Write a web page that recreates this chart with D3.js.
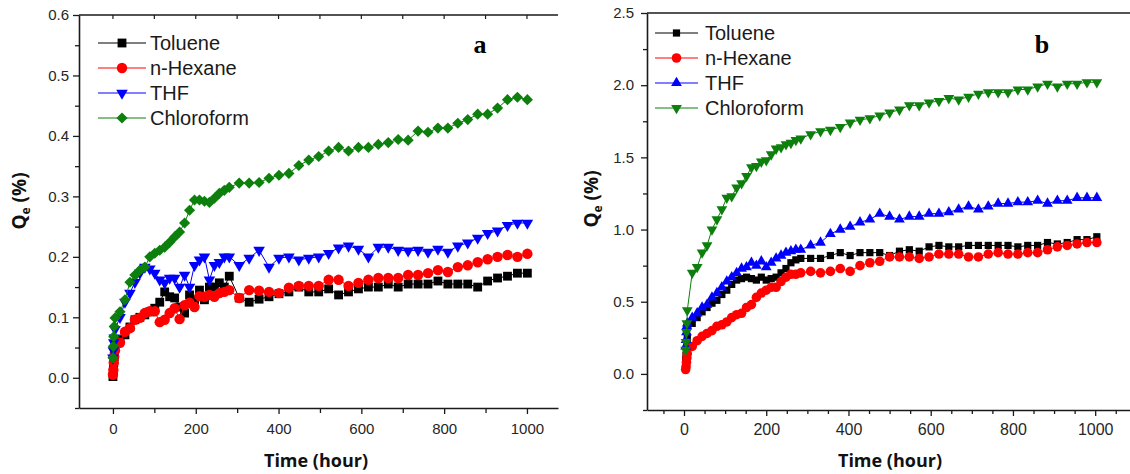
<!DOCTYPE html>
<html><head><meta charset="utf-8">
<script src="https://cdn.jsdelivr.net/npm/d3@7"></script>
<style>body{margin:0;background:#fff}svg{display:block}</style>
</head><body>
<svg id="c" width="1130" height="474"></svg>
<script>
// ---------- data ----------
const seriesNames = ["Toluene", "n-Hexane", "THF", "Chloroform"];
const seriesColors = ["#000000", "#ff0000", "#0000ff", "#0c7f0c"];

// Panel a (hours)
const aTimes = [0,1,2,3,5,17,29,41,53,65,77,89,101,113,125,137,149,161,173,185,197,209,221,233,245,257,269,281,
  305,329,353,377,401,425,449,473,497,521,545,569,593,617,641,665,689,713,737,761,785,809,833,857,881,905,929,953,977,1001];
const aToluene = [.002,.013,.025,.035,.05,.063,.071,.084,.096,.1,.104,.109,.115,.125,.142,.134,.132,.117,.107,.137,.129,.145,.129,.15,.15,.157,.15,.168,
  .132,.125,.13,.134,.139,.142,.15,.142,.142,.147,.137,.142,.147,.15,.15,.155,.15,.155,.155,.155,.16,.155,.155,.155,.15,.16,.165,.168,.173,.173];
const aHexane = [.005,.013,.025,.035,.045,.058,.076,.082,.096,.099,.107,.11,.11,.092,.096,.107,.115,.097,.12,.124,.117,.135,.134,.137,.134,.14,.142,.145,
  .132,.145,.144,.142,.14,.149,.152,.152,.152,.162,.162,.152,.157,.162,.165,.165,.165,.17,.17,.173,.178,.175,.183,.186,.191,.196,.2,.203,.2,.205];
const aTHF = [.033,.045,.058,.066,.08,.1,.125,.14,.158,.173,.183,.18,.173,.162,.157,.165,.165,.15,.17,.15,.186,.195,.2,.162,.186,.191,.2,.2,
  .186,.198,.211,.183,.198,.2,.195,.198,.2,.206,.215,.218,.213,.2,.216,.216,.211,.21,.211,.208,.213,.208,.218,.223,.231,.239,.243,.252,.256,.256];
const aChloroform = [.033,.052,.068,.085,.099,.109,.129,.158,.17,.178,.183,.2,.206,.211,.216,.224,.233,.241,.256,.277,.294,.294,.292,.29,.297,.305,.31,.315,
  .322,.322,.323,.33,.335,.338,.351,.36,.366,.375,.381,.375,.381,.381,.386,.389,.394,.393,.408,.406,.413,.413,.421,.427,.436,.436,.446,.46,.464,.46];

// Panel b (hours)
const bTimes = [4,5,6,7,8,20,32,44,56,68,80,92,104,116,128,140,152,164,176,188,200,212,224,236,248,260,272,284,
  308,332,356,380,404,428,452,476,500,524,548,572,596,620,644,668,692,716,740,764,788,812,836,860,884,908,932,956,980,1004];
const bToluene = [.1,.13,.17,.2,.25,.35,.39,.43,.46,.49,.51,.55,.58,.62,.65,.66,.67,.66,.65,.67,.65,.66,.67,.7,.73,.77,.79,.8,
  .8,.8,.82,.84,.82,.84,.84,.84,.82,.85,.86,.85,.88,.89,.88,.88,.89,.89,.89,.89,.89,.88,.89,.89,.91,.9,.91,.93,.93,.95];
const bHexane = [.03,.05,.08,.11,.14,.19,.23,.26,.28,.3,.33,.34,.36,.39,.41,.42,.46,.48,.53,.56,.58,.6,.6,.64,.67,.69,.69,.7,
  .71,.7,.71,.73,.71,.75,.77,.78,.81,.81,.81,.8,.81,.83,.83,.83,.81,.81,.83,.84,.83,.83,.84,.84,.86,.88,.89,.9,.91,.91];
const bTHF = [.19,.235,.29,.33,.35,.39,.42,.46,.48,.53,.56,.6,.64,.67,.7,.73,.74,.77,.75,.78,.74,.77,.8,.82,.84,.85,.86,.86,
  .89,.91,.97,1.0,1.02,1.05,1.07,1.11,1.09,1.07,1.09,1.09,1.11,1.11,1.12,1.14,1.16,1.14,1.16,1.18,1.18,1.19,1.19,1.2,1.18,1.2,1.2,1.22,1.22,1.22];
const bChloroform = [.166,.22,.29,.35,.44,.7,.74,.84,.89,1.0,1.07,1.14,1.22,1.23,1.29,1.32,1.37,1.43,1.44,1.47,1.48,1.52,1.56,1.57,1.59,1.6,1.62,1.63,
  1.66,1.68,1.69,1.71,1.74,1.76,1.77,1.79,1.81,1.83,1.86,1.86,1.88,1.89,1.91,1.9,1.92,1.94,1.95,1.95,1.95,1.97,1.97,1.99,2.01,1.99,2.01,2.01,2.02,2.02];

// tick labels
const aYTicks = [0, 0.1, 0.2, 0.3, 0.4, 0.5, 0.6];
const bYTicks = [0, 0.5, 1.0, 1.5, 2.0, 2.5];
const xTicks = [0, 200, 400, 600, 800, 1000];

// ---------- drawing ----------
const svg = d3.select("#c");
svg.append("rect").attr("width",1130).attr("height",474).attr("fill","#fff");

function markerPath(kind, size) {
  if (kind === "square") return d3.symbol(d3.symbolSquare, size)();
  if (kind === "circle") return d3.symbol(d3.symbolCircle, size)();
  if (kind === "triUp" || kind === "triDown") return d3.symbol(d3.symbolTriangle, size)();
  if (kind === "diamond") return d3.symbol(d3.symbolSquare, size)();
}
function markerRot(kind) {
  if (kind === "triDown") return " rotate(180)";
  if (kind === "diamond") return " rotate(45)";
  return "";
}

function drawPanel(p) {
  const g = svg.append("g");
  const x = d3.scaleLinear().domain(p.xDomain).range([p.left, p.right]);
  const y = d3.scaleLinear().domain(p.yDomain).range([p.bottom, p.top]);
  const axisColor = "#1a1a1a";

  // series
  p.series.forEach((vals, i) => {
    const pts = p.times.map((t, k) => [t, vals[k]]);
    const sg = g.append("g");
    sg.append("path").datum(pts)
      .attr("fill", "none").attr("stroke", seriesColors[i]).attr("stroke-width", 1)
      .attr("d", d3.line().x(d => x(d[0])).y(d => y(d[1])));
    sg.selectAll("path.m").data(pts).join("path").attr("class", "m")
      .attr("d", markerPath(p.markers[i], p.sizes[i]))
      .attr("transform", d => `translate(${x(d[0])},${y(d[1])})` + markerRot(p.markers[i]))
      .attr("fill", seriesColors[i]);
  });

  // y axis
  const yAx = g.append("g").attr("transform", `translate(${p.left},0)`)
    .call(d3.axisLeft(y).tickValues(p.yTicks).tickFormat(d3.format(".1f")).tickSize(6).tickSizeOuter(0).tickPadding(p.yPad));
  g.append("g").attr("transform", `translate(${p.left},0)`)
    .call(d3.axisLeft(y).tickValues(p.yMinor).tickFormat("").tickSize(4).tickSizeOuter(0))
    .select(".domain").remove();
  // x axis
  const xAx = g.append("g").attr("transform", `translate(0,${p.bottom})`)
    .call(d3.axisBottom(x).tickValues(xTicks).tickFormat(d3.format("d")).tickSize(6).tickSizeOuter(0).tickPadding(p.xPad));
  g.append("g").attr("transform", `translate(0,${p.bottom})`)
    .call(d3.axisBottom(x).tickValues(p.xMinor).tickFormat("").tickSize(p.xMinorLen).tickSizeOuter(0))
    .select(".domain").remove();
  // top border
  g.append("line").attr("x1", p.left).attr("x2", p.right).attr("y1", p.top).attr("y2", p.top)
    .attr("stroke", axisColor).attr("stroke-width", 1.6);
  if (p.topTicks) {
    g.selectAll("line.tt").data(p.topTicks).join("line").attr("class","tt")
      .attr("x1", d => x(d)).attr("x2", d => x(d)).attr("y1", p.top).attr("y2", p.top + 4)
      .attr("stroke", axisColor).attr("stroke-width", 1.2);
  }
  g.selectAll(".domain").attr("stroke", axisColor).attr("stroke-width", 1.6);
  g.selectAll(".tick line").attr("stroke", axisColor).attr("stroke-width", 1.3);
  yAx.selectAll("text").attr("font-family", "Liberation Sans, Arial, sans-serif").attr("font-size", p.yFont).attr("fill", "#262626");
  xAx.selectAll("text").attr("font-family", "Liberation Sans, Arial, sans-serif").attr("font-size", p.xFont).attr("fill", "#262626");

  // axis titles
  g.append("text").attr("x", p.xTitle[0]).attr("y", p.xTitle[1]).attr("text-anchor", "middle")
    .attr("font-family", "Open Sans, sans-serif").attr("font-weight", 700).attr("font-size", 18).attr("fill", "#111")
    .text("Time (hour)");
  const yt = g.append("text").attr("transform", `translate(${p.yTitle[0]},${p.yTitle[1]}) rotate(-90)`)
    .attr("text-anchor", "middle").attr("font-family", "Open Sans, sans-serif").attr("font-weight", 700)
    .attr("font-size", 19).attr("fill", "#111");
  yt.append("tspan").text("Q");
  yt.append("tspan").attr("font-size", 12).attr("dy", 4).text("e");
  yt.append("tspan").attr("dy", -4).text(" (%)");

  // panel letter
  g.append("text").attr("x", p.letter[0]).attr("y", p.letter[1]).attr("text-anchor", "middle")
    .attr("font-family", "Liberation Serif, Times New Roman, serif").attr("font-weight", 700).attr("font-size", 26)
    .text(p.letterText);

  // legend
  seriesNames.forEach((name, i) => {
    const ly = p.legend.y0 + i * p.legend.dy;
    g.append("line").attr("x1", p.legend.x0).attr("x2", p.legend.x1).attr("y1", ly).attr("y2", ly)
      .attr("stroke", seriesColors[i]).attr("stroke-width", 1);
    g.append("path").attr("d", markerPath(p.markers[i], p.sizes[i]))
      .attr("transform", `translate(${(p.legend.x0 + p.legend.x1) / 2},${ly})` + markerRot(p.markers[i]))
      .attr("fill", seriesColors[i]);
    g.append("text").attr("x", p.legend.tx).attr("y", ly + 7)
      .attr("font-family", "Liberation Sans, Arial, sans-serif").attr("font-size", 20).attr("fill", "#1a1a1a")
      .text(name);
  });
}

drawPanel({
  left: 79, right: 558, top: 15, bottom: 408,
  xDomain: [-82, 1075], yDomain: [-0.05, 0.6],
  times: aTimes, series: [aToluene, aHexane, aTHF, aChloroform],
  markers: ["square", "circle", "triDown", "diamond"], sizes: [78, 85, 58, 62],
  yTicks: aYTicks, yMinor: [-0.05, 0.05, 0.15, 0.25, 0.35, 0.45, 0.55],
  xMinor: [100, 300, 500, 700, 900], xMinorLen: 5,
  topTicks: [0,100,200,300,400,500,600,700,800,900,1000],
  yPad: 4, xPad: 9, yFont: 15, xFont: 15,
  xTitle: [316, 467], yTitle: [26, 201],
  letter: [480, 53], letterText: "a",
  legend: { x0: 98, x1: 146, tx: 150, y0: 43, dy: 25 }
});

drawPanel({
  left: 647, right: 1140, top: 13, bottom: 410,
  xDomain: [-90, 1109], yDomain: [-0.25, 2.5],
  times: bTimes, series: [bToluene, bHexane, bTHF, bChloroform],
  markers: ["square", "circle", "triUp", "triDown"], sizes: [52, 72, 50, 50],
  yTicks: bYTicks, yMinor: [-0.25, 0.25, 0.75, 1.25, 1.75, 2.25],
  xMinor: [-50, 50, 100, 150, 250, 300, 350, 450, 500, 550, 650, 700, 750, 850, 900, 950, 1050], xMinorLen: 4,
  topTicks: null,
  yPad: 7, xPad: 8, yFont: 15, xFont: 16,
  xTitle: [890, 467], yTitle: [598, 199],
  letter: [1042, 53], letterText: "b",
  legend: { x0: 655, x1: 698, tx: 705, y0: 33, dy: 25 }
});
</script>
</body></html>
